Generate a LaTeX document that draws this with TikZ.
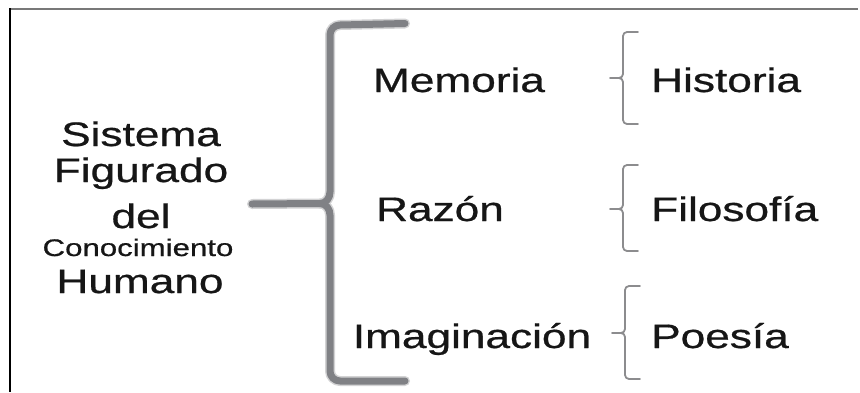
\documentclass[tikz,border=0pt]{standalone}
\usepackage{fontspec}
\usepackage{graphicx}
\setmainfont{Liberation Sans}[FakeBold=0.6]
\newfontfamily\heavy{Liberation Sans}[FakeBold=0.6]
\definecolor{txt}{RGB}{22,22,22}
\definecolor{bigbr}{RGB}{128,129,133}
\definecolor{smbr}{RGB}{140,140,142}
\definecolor{frametop}{RGB}{120,120,120}
\newcommand{\WideTxt}[1]{\scalebox{1.3}[1]{#1}}
\tikzset{
  lbl/.style={inner sep=0pt, text=txt, font=\heavy\fontsize{34}{40}\selectfont},
  lblsmall/.style={inner sep=0pt, text=txt, font=\heavy\fontsize{24}{28}\selectfont},
  bigbrace/.style={draw=bigbr, line width=7pt, line cap=round, line join=round},
  bigshadow/.style={draw=bigbr!35, line width=10pt, line cap=round, line join=round},
  smbrace/.style={draw=smbr, line width=1.8pt, line cap=round, line join=round},
}
\newcommand{\SmBrace}[5]{%
  \coordinate (#5) at (#1-13,#3);
  \draw[smbrace] (#1+15,#2) -- (#1+4,#2) to[out=180,in=90] (#1,#2+4) -- (#1,#3-4) to[out=-90,in=0] (#1-4,#3) -- (#5);
  \draw[smbrace] (#1-4,#3) to[out=0,in=90] (#1,#3+4) -- (#1,#4-4) to[out=-90,in=180] (#1+4,#4) -- (#1+15,#4);
}
\begin{document}
\begin{tikzpicture}[x=1pt,y=-1pt]
\useasboundingbox (0,0) rectangle (860,392);
% frame
\draw[frametop, line width=2pt] (9,8.5) -- (858,8.5);
\draw[black, line width=2pt] (9.5,8) -- (9.5,392);

% left block
\node[lbl, anchor=base] (sis) at (141,146) {\WideTxt{Sistema}};
\node[lbl, anchor=base] (fig) at (141,182) {\WideTxt{Figurado}};
\node[lbl, anchor=base] (del) at (141,228) {\WideTxt{del}};
\node[lblsmall, anchor=base] (con) at (138,256) {\WideTxt{Conocimiento}};
\node[lbl, anchor=base] (hum) at (140,293) {\WideTxt{Humano}};

% middle column
\node[lbl, anchor=base] (mem) at (459,92) {\WideTxt{Memoria}};
\node[lbl, anchor=base] (raz) at (440,221) {\WideTxt{Razón}};
\node[lbl, anchor=base] (ima) at (472,348) {\WideTxt{Imaginación}};

% right column
\node[lbl, anchor=base west] (his) at (651,92) {\WideTxt{Historia}};
\node[lbl, anchor=base west] (fil) at (651,221) {\WideTxt{Filosofía}};
\node[lbl, anchor=base west] (poe) at (651,348) {\WideTxt{Poesía}};

% big brace
\coordinate (bt) at (405,23.5);
\coordinate (bb) at (405,381);
\coordinate (bp) at (252,204);
\foreach \st in {bigshadow,bigbrace}{
  \draw[\st] (bt) -- (340,25) to[out=180,in=90] (330,35) -- (330,192) to[out=-90,in=0] (320,203.5) -- (bp);
  \draw[\st] (320,203.5) to[out=0,in=90] (330,215) -- (330,371) to[out=-90,in=180] (340,381) -- (bb);
}

% small braces
\SmBrace{623}{32}{78}{124}{p1}
\SmBrace{623}{165}{209}{251}{p2}
\SmBrace{625}{286}{333}{379}{p3}
\end{tikzpicture}
\end{document}
